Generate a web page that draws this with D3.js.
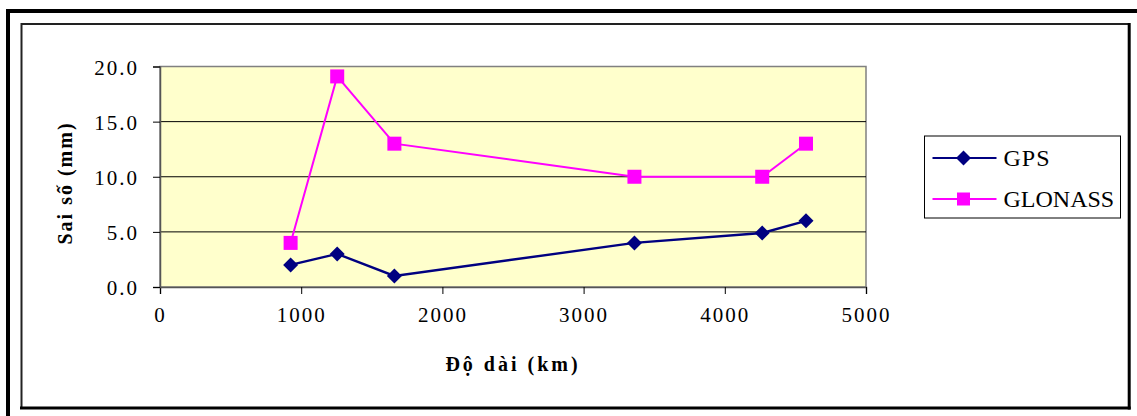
<!DOCTYPE html>
<html>
<head>
<meta charset="utf-8">
<script src="https://cdn.jsdelivr.net/npm/d3@7"></script>
<style>
    body { margin: 0; background: #fff; }
</style>
</head>
<body>
<div id="chart"></div>
<script>
// data
let distances = [925, 1255, 1660, 3360, 4265, 4575];
let gpsValues = [2.0, 3.0, 1.0, 4.0, 4.9, 6.0];
let glonassValues = [4.0, 19.1, 13.0, 10.0, 10.0, 13.0];
let seriesNames = ["GPS", "GLONASS"];
let xTicks = [0, 1000, 2000, 3000, 4000, 5000];
let yTicks = [0, 5, 10, 15, 20];

let W = 1137, H = 416;
let margin = {top: 66.5, left: 160, right: 271, bottom: 129};
let width = W - margin.left - margin.right,
    height = H - margin.top - margin.bottom;

let serif = "'Liberation Serif', 'Times New Roman', serif";

let svg = d3.select("#chart").append("svg")
    .attr("width", W)
    .attr("height", H)
    .style("font-family", serif);

// frame lines
svg.append("line").attr("x1", 6).attr("x2", W).attr("y1", 11).attr("y2", 11)
    .attr("stroke", "#000").attr("stroke-width", 4);
svg.append("line").attr("x1", 8).attr("x2", 8).attr("y1", 9).attr("y2", H)
    .attr("stroke", "#000").attr("stroke-width", 4);
svg.append("line").attr("x1", 21.5).attr("x2", 21.5).attr("y1", 23).attr("y2", 408)
    .attr("stroke", "#222").attr("stroke-width", 2);
svg.append("line").attr("x1", 21).attr("x2", 1130).attr("y1", 24).attr("y2", 24)
    .attr("stroke", "#222").attr("stroke-width", 2);
svg.append("line").attr("x1", 1129.2).attr("x2", 1129.2).attr("y1", 23).attr("y2", 409.5)
    .attr("stroke", "#000").attr("stroke-width", 3);
svg.append("line").attr("x1", 20).attr("x2", 1130.7).attr("y1", 408).attr("y2", 408)
    .attr("stroke", "#000").attr("stroke-width", 3);

let g = svg.append("g")
    .attr("transform", "translate(" + margin.left + "," + margin.top + ")");

// scales
let x = d3.scaleLinear().domain([0, 5000]).range([0, width]);
let y = d3.scaleLinear().domain([0, 20]).range([height, 0]);

// plot area
g.append("rect")
    .attr("width", width)
    .attr("height", height)
    .attr("fill", "#FFFFCC")
    .attr("stroke", "#808080")
    .attr("stroke-width", 1.5);

// gridlines
g.append("g").selectAll("line")
    .data(yTicks.filter(d => d > 0 && d < 20))
    .join("line")
    .attr("x1", 0).attr("x2", width)
    .attr("y1", d => y(d)).attr("y2", d => y(d))
    .attr("stroke", "#000").attr("stroke-width", 1);

// axes
let xAxis = g.append("g")
    .attr("transform", "translate(0," + height + ")")
    .call(d3.axisBottom(x).tickValues(xTicks).tickSize(7).tickPadding(13).tickFormat(d3.format("d")));
let yAxis = g.append("g")
    .call(d3.axisLeft(y).tickValues(yTicks).tickSize(7).tickPadding(14).tickFormat(d3.format(".1f")));

[xAxis, yAxis].forEach(a => {
    a.attr("font-family", null);
    a.select(".domain").attr("stroke", "#555").attr("stroke-width", 1.5);
    a.selectAll(".tick line").attr("stroke", "#000");
    a.selectAll(".tick text")
        .style("font-family", serif)
        .attr("font-size", 21)
        .attr("letter-spacing", 2)
        .attr("fill", "#000");
});
yAxis.selectAll(".tick text").attr("dy", "0.36em");
xAxis.selectAll(".tick text").attr("dy", "0.71em");

// axis titles
svg.append("text")
    .attr("transform", "translate(72,183) rotate(-90)")
    .attr("text-anchor", "middle")
    .attr("font-size", 20)
    .attr("font-weight", "bold")
    .attr("letter-spacing", 2)
    .text("Sai số (mm)");

svg.append("text")
    .attr("x", margin.left + width / 2)
    .attr("y", 371)
    .attr("text-anchor", "middle")
    .attr("font-size", 20)
    .attr("font-weight", "bold")
    .attr("letter-spacing", 3)
    .text("Độ dài (km)");

// lines
let gpsData = distances.map((d, i) => ({dist: d, value: gpsValues[i]}));
let glonassData = distances.map((d, i) => ({dist: d, value: glonassValues[i]}));

let line = d3.line()
    .x(d => x(d.dist))
    .y(d => y(d.value));

let diamond = "M0,-7.5L7.5,0L0,7.5L-7.5,0Z";

g.append("path").datum(glonassData)
    .attr("d", line)
    .attr("fill", "none")
    .attr("stroke", "#FF00FF")
    .attr("stroke-width", 2);
g.append("path").datum(gpsData)
    .attr("d", line)
    .attr("fill", "none")
    .attr("stroke", "#000080")
    .attr("stroke-width", 2.4);

g.selectAll(".sq").data(glonassData).join("rect")
    .attr("class", "sq")
    .attr("x", d => x(d.dist) - 7)
    .attr("y", d => y(d.value) - 7)
    .attr("width", 14).attr("height", 14)
    .attr("fill", "#FF00FF");
g.selectAll(".dm").data(gpsData).join("path")
    .attr("class", "dm")
    .attr("transform", d => "translate(" + x(d.dist) + "," + y(d.value) + ")")
    .attr("d", diamond)
    .attr("fill", "#000080");

// legend
let legend = svg.append("g").attr("transform", "translate(924.5,136)");
legend.append("rect")
    .attr("width", 196).attr("height", 82)
    .attr("fill", "#fff")
    .attr("stroke", "#000").attr("stroke-width", 1);

let legendColors = ["#000080", "#FF00FF"];
seriesNames.forEach((name, i) => {
    let ly = 22 + i * 41;
    legend.append("line")
        .attr("x1", 8).attr("x2", 72).attr("y1", ly).attr("y2", ly)
        .attr("stroke", legendColors[i]).attr("stroke-width", 2);
    if (i === 0) {
        legend.append("path")
            .attr("transform", "translate(39," + ly + ")")
            .attr("d", diamond)
            .attr("fill", legendColors[i]);
    } else {
        legend.append("rect")
            .attr("x", 39 - 6.5).attr("y", ly - 6.5)
            .attr("width", 13).attr("height", 13)
            .attr("fill", legendColors[i]);
    }
    legend.append("text")
        .attr("x", 79)
        .attr("y", ly + 8)
        .style("font-family", serif)
        .attr("font-size", 24)
        .attr("letter-spacing", i === 0 ? 1 : 0)
        .text(name);
});
</script>
</body>
</html>
